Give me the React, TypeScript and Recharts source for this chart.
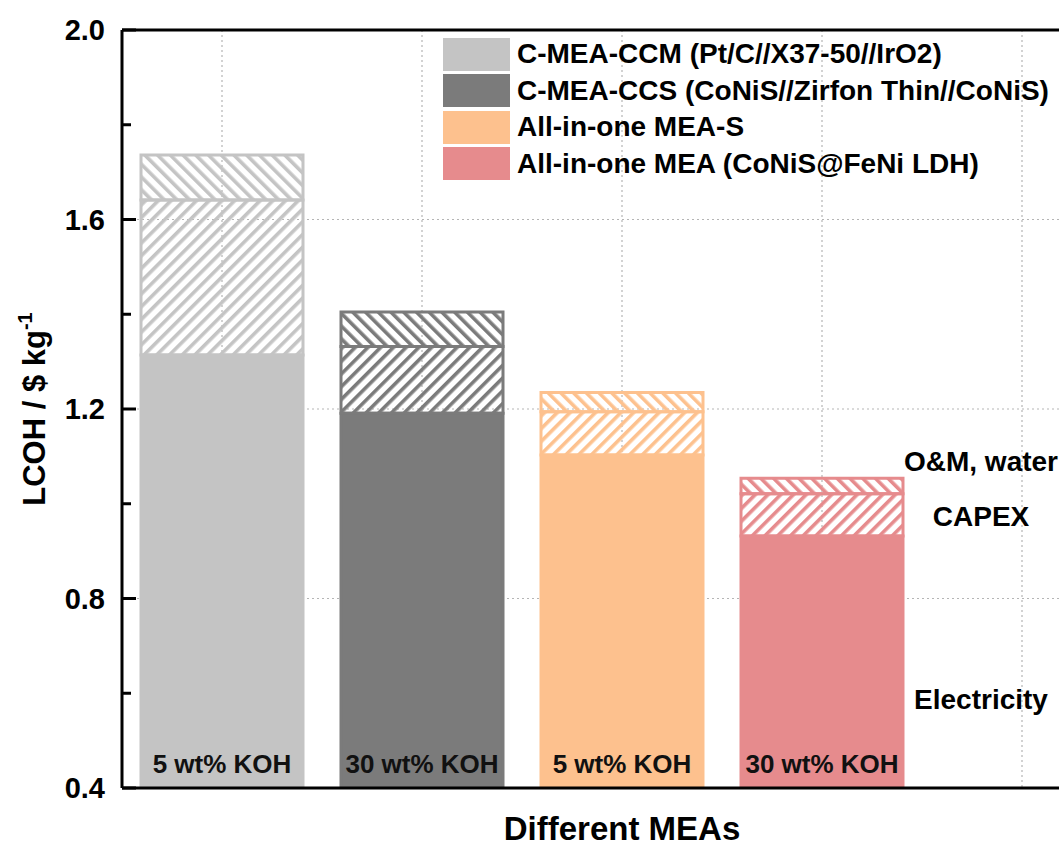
import React from 'react';
import {
  BarChart,
  Bar,
  XAxis,
  YAxis,
  CartesianGrid,
  Cell,
  ReferenceLine,
  ReferenceDot,
} from 'recharts';

// ---------- data ----------
const categories = ['C-MEA-CCM', 'C-MEA-CCS', 'All-in-one MEA-S', 'All-in-one MEA', ' '];
const kohLabels = ['5 wt% KOH', '30 wt% KOH', '5 wt% KOH', '30 wt% KOH', ''];
const electricity = [1.314, 1.191, 1.103, 0.932, null];
const capex = [0.327, 0.141, 0.091, 0.089, null];
const om = [0.095, 0.073, 0.041, 0.033, null];
const legendNames = [
  'C-MEA-CCM (Pt/C//X37-50//IrO2)',
  'C-MEA-CCS (CoNiS//Zirfon Thin//CoNiS)',
  'All-in-one MEA-S',
  'All-in-one MEA (CoNiS@FeNi LDH)',
];
const colors = ['#c4c4c4', '#7b7b7b', '#fdc18e', '#e68b8d'];
const segmentNames = ['O&M, water', 'CAPEX', 'Electricity'];
const segmentLabelY = [1.088, 0.972, 0.586];
const yTicks = [0.4, 0.6, 0.8, 1.0, 1.2, 1.4, 1.6, 1.8, 2.0];
const gridValues = [0.8, 1.2, 1.6];

const data = categories.map((name, i) => ({
  name,
  koh: kohLabels[i],
  electricity: electricity[i],
  capex: capex[i],
  om: om[i],
}));

const FONT = "'Liberation Sans', Arial, sans-serif";

const YTick = (props: any) => {
  const { x, y, payload } = props;
  const v = payload.value as number;
  const major = Math.round(v * 10) % 4 === 0;
  return (
    <g>
      <line x1={x + 17} y1={y} x2={x + 17 + (major ? 14 : 9)} y2={y} stroke="#000" strokeWidth={3} />
      {major && (
        <text x={x} y={y} dy="0.36em" textAnchor="end" fontFamily={FONT} fontWeight="bold" fontSize={29} fill="#000">
          {v.toFixed(1)}
        </text>
      )}
    </g>
  );
};

const XTick = (props: any) => {
  const { x, y, index } = props;
  const label = kohLabels[index] || '';
  return (
    <text x={x} y={y - 15} textAnchor="middle" fontFamily={FONT} fontWeight="bold" fontSize={26} fill="#111">
      {label}
    </text>
  );
};

const YTitle = (props: any) => {
  const vb = props.viewBox || { x: 0, y: 30, width: 122, height: 758 };
  const cx = vb.x + 45;
  const cy = vb.y + vb.height / 2;
  return (
    <text
      x={cx}
      y={cy}
      textAnchor="middle"
      transform={`rotate(-90 ${cx} ${cy})`}
      fontFamily={FONT}
      fontWeight="bold"
      fontSize={31}
      fill="#000"
    >
      LCOH / $ kg
      <tspan dy={-13} fontSize={20}>-1</tspan>
    </text>
  );
};

const XTitle = (props: any) => {
  const vb = props.viewBox || { x: 122, y: 788, width: 1000, height: 60 };
  return (
    <text
      x={vb.x + vb.width / 2}
      y={vb.y + 52}
      textAnchor="middle"
      fontFamily={FONT}
      fontWeight="bold"
      fontSize={33}
      fill="#000"
    >
      Different MEAs
    </text>
  );
};

const LegendBox = () => (
  <div
    style={{
      position: 'absolute',
      left: 443,
      top: 36,
      fontFamily: FONT,
      fontWeight: 'bold',
      fontSize: 28,
      color: '#000',
      lineHeight: 1,
    }}
  >
    {legendNames.map((n, i) => (
      <div key={n} style={{ display: 'flex', alignItems: 'center', height: 36.5 }}>
        <div style={{ width: 67, height: 33, background: colors[i], marginRight: 7, flex: 'none' }} />
        <span style={{ whiteSpace: 'nowrap' }}>{n}</span>
      </div>
    ))}
  </div>
);

const segLabel = (text: string) => (props: any) => {
  const vb = props.viewBox || { x: 0, y: 0 };
  return (
    <text
      x={vb.x - 40}
      y={vb.y}
      dy="0.36em"
      textAnchor="middle"
      fontFamily={FONT}
      fontWeight="bold"
      fontSize={28}
      fill="#000"
    >
      {text}
    </text>
  );
};

export default function App() {
  return (
    <div
      style={{
        position: 'absolute',
        left: 0,
        top: 0,
        width: 1059,
        height: 848,
        overflow: 'hidden',
        background: '#fff',
      }}
    >
      <svg width={0} height={0} style={{ position: 'absolute' }}>
        <defs>
          {colors.map((c, i) => (
            <React.Fragment key={c}>
              <pattern id={`fwd-${i}`} patternUnits="userSpaceOnUse" width={9} height={9} patternTransform="rotate(45)">
                <rect x={0} y={0} width={3.6} height={9} fill={c} />
              </pattern>
              <pattern id={`back-${i}`} patternUnits="userSpaceOnUse" width={9} height={9} patternTransform="rotate(-45)">
                <rect x={0} y={0} width={3.6} height={9} fill={c} />
              </pattern>
            </React.Fragment>
          ))}
        </defs>
      </svg>
      <BarChart
        width={1132}
        height={848}
        data={data}
        margin={{ top: 30, right: 10, left: 0, bottom: 0 }}
        barSize={162}
      >
        <CartesianGrid
          vertical={true}
          horizontalValues={gridValues}
          stroke="#b5b5b5"
          strokeDasharray="2 3"
          strokeWidth={1.2}
        />
        <XAxis
          dataKey="name"
          height={60}
          tick={<XTick />}
          tickLine={false}
          tickSize={0}
          tickMargin={0}
          axisLine={{ stroke: '#000', strokeWidth: 3 }}
          interval={0}
          label={<XTitle />}
        />
        <YAxis
          width={122}
          domain={[0.4, 2.0]}
          allowDataOverflow
          ticks={yTicks}
          interval={0}
          tick={<YTick />}
          tickLine={false}
          tickSize={0}
          tickMargin={17}
          axisLine={{ stroke: '#000', strokeWidth: 3 }}
          label={<YTitle />}
        />
        <Bar dataKey="electricity" stackId="a" isAnimationActive={false} strokeWidth={3}>
          {data.map((d, i) => (
            <Cell key={d.name} fill={colors[i % colors.length]} stroke={colors[i % colors.length]} />
          ))}
        </Bar>
        <Bar dataKey="capex" stackId="a" isAnimationActive={false} strokeWidth={3}>
          {data.map((d, i) => (
            <Cell key={d.name} fill={`url(#fwd-${i % colors.length})`} stroke={colors[i % colors.length]} />
          ))}
        </Bar>
        <Bar dataKey="om" stackId="a" isAnimationActive={false} strokeWidth={3}>
          {data.map((d, i) => (
            <Cell key={d.name} fill={`url(#back-${i % colors.length})`} stroke={colors[i % colors.length]} />
          ))}
        </Bar>
        <ReferenceLine y={2.0} stroke="#000" strokeWidth={3} />
        {segmentNames.map((s, i) => (
          <ReferenceDot
            key={s}
            x={categories[4]}
            y={segmentLabelY[i]}
            r={1}
            fill="none"
            stroke="none"
            label={segLabel(s)}
          />
        ))}
      </BarChart>
      <LegendBox />
    </div>
  );
}
